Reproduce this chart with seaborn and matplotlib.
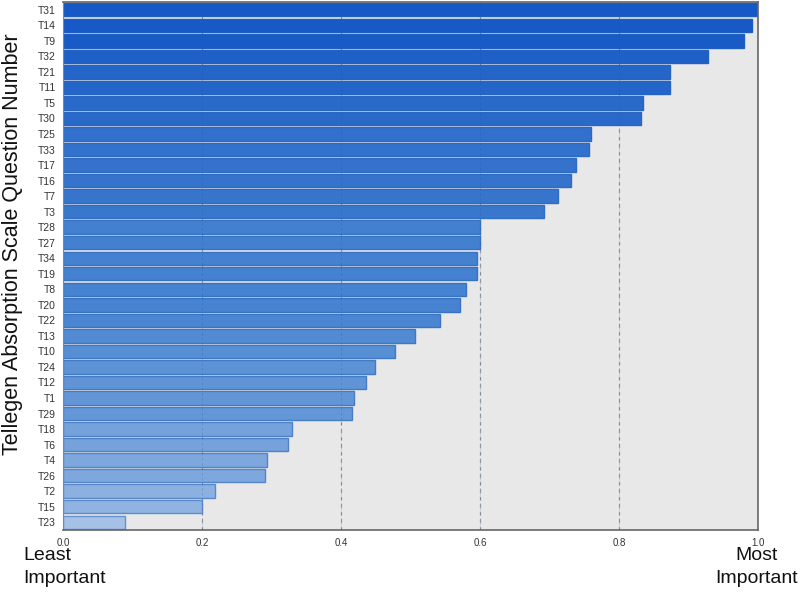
import matplotlib
matplotlib.use("Agg")
import matplotlib.pyplot as plt
import matplotlib.colors as mcolors
import numpy as np
import pandas as pd
import seaborn as sns

items = ["T31", "T14", "T9", "T32", "T21", "T11", "T5", "T30", "T25", "T33",
         "T17", "T16", "T7", "T3", "T28", "T27", "T34", "T19", "T8", "T20",
         "T22", "T13", "T10", "T24", "T12", "T1", "T29", "T18", "T6", "T4",
         "T26", "T2", "T15", "T23"]
importance = [1.000, 0.991, 0.980, 0.928, 0.873, 0.873, 0.835, 0.832, 0.760, 0.757,
              0.738, 0.731, 0.712, 0.692, 0.600, 0.600, 0.596, 0.596, 0.580, 0.571,
              0.542, 0.506, 0.478, 0.449, 0.436, 0.419, 0.416, 0.330, 0.324, 0.294,
              0.291, 0.219, 0.200, 0.089]
xticks = [0.0, 0.2, 0.4, 0.6, 0.8, 1.0]
xticklabels = ["0.0", "0.2", "0.4", "0.6", "0.8", "1.0"]

df = pd.DataFrame({"item": items, "importance": importance})

cmap = mcolors.LinearSegmentedColormap.from_list("imp", ["#a6c1e6", "#4a86d1", "#1658c6"])
vmin, vmax = min(importance), max(importance)
fills = [cmap((v - vmin) / (vmax - vmin)) for v in importance]
edge_base = np.array(mcolors.to_rgb("#2f6fcc"))
edges = [tuple(0.55 * np.array(c[:3]) * 0.9 + 0.45 * edge_base) + (1.0,) for c in fills]

sns.set_style("white")
plt.rcParams["font.family"] = ["Liberation Sans", "DejaVu Sans"]

fig = plt.figure(figsize=(8.0, 5.97), dpi=100)
ax = fig.add_axes([63 / 800, 1 - 530 / 597, (758 - 63) / 800, (530 - 2) / 597])
ax.set_facecolor("#e8e8e8")

sns.barplot(data=df, x="importance", y="item", hue="item", palette=fills,
            saturation=1, legend=False, orient="h", width=0.86, ax=ax, zorder=2)
for patch, ec in zip(ax.patches, edges):
    patch.set_edgecolor(ec)
    patch.set_linewidth(1.0)

ax.set_xlim(0, 1.0)
ax.set_ylim(len(items) - 0.5, -0.5)
for g in [0.2, 0.4, 0.6, 0.8]:
    ax.axvline(g, color="#9a9a9a", linestyle=(0, (3, 3)), linewidth=0.9, zorder=1)
    ax.axvline(g, color="#1d4f9a", linestyle=(0, (3, 3)), linewidth=0.6, zorder=3, alpha=0.25)

ax.set_xticks(xticks)
ax.set_xticklabels(xticklabels, fontsize=7, color="#333333")
ax.tick_params(axis="y", length=0, pad=5, labelsize=7.5, labelcolor="#333333")
ax.tick_params(axis="x", length=0, pad=6)
ax.set_xlabel("")
ax.set_ylabel("")

for side in ["top", "right", "bottom"]:
    ax.spines[side].set_visible(True)
    ax.spines[side].set_color("#666666")
    ax.spines[side].set_linewidth(1.2)
ax.spines["left"].set_visible(True)
ax.spines["left"].set_color("#888888")
ax.spines["left"].set_linewidth(0.8)

fig.text(13 / 800, 1 - 244 / 597, "Tellegen Absorption Scale Question Number",
         rotation=90, ha="center", va="center", fontsize=15.5, color="#111111")
fig.text(23 / 800, 1 - 567 / 597, "Least\nImportant", ha="left", va="center",
         fontsize=14, color="#111111", linespacing=1.5)
fig.text(757 / 800, 1 - 567 / 597, "Most\nImportant", ha="center", va="center",
         fontsize=14, color="#111111", linespacing=1.5)

fig.savefig("out.png", dpi=100, facecolor="white")
